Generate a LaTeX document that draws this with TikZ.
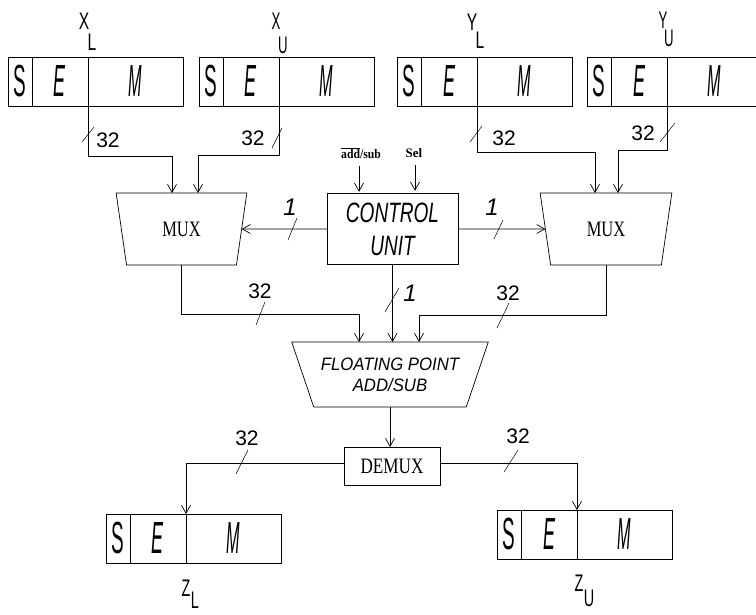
\documentclass[tikz,border=0pt]{standalone}
\usepackage{fontspec}
\usepackage{graphicx}
\setmainfont{Liberation Serif}
\newfontfamily\lsans{Liberation Sans}
\usetikzlibrary{arrows.meta,shapes.geometric}

\tikzset{
  ln/.style={line width=0.7pt},
  arr/.style={ln,-{Straight Barb[length=8pt,width=9pt]}},
  tick/.style={line width=0.5pt},
  regbox/.style={draw,ln,minimum width=175pt,minimum height=49pt,inner sep=0pt,outer sep=0pt},
  regl/.style={inner sep=0pt,font=\lsans\fontsize{45}{45}\selectfont},
  lab/.style={inner sep=0pt,font=\lsans\fontsize{24}{24}\selectfont},
  num/.style={inner sep=0pt,font=\lsans\fontsize{21}{21}\selectfont},
  one/.style={inner sep=0pt,font=\lsans\itshape\fontsize{24}{24}\selectfont},
  inlab/.style={inner sep=0pt,font=\bfseries\fontsize{13}{13}\selectfont},
  serifbig/.style={font=\fontsize{22}{22}\selectfont},
  box/.style={draw,ln,inner sep=0pt,outer sep=0pt},
  trap/.style={draw,ln,trapezium,shape border rotate=180,trapezium stretches=true,inner sep=0pt,outer sep=0pt},
}

\newcommand\semreg[3]{%
  \node[regbox,anchor=north west] (#1) at (#2,#3) {};
  \draw[ln] ({#2+24},#3) -- ({#2+24},{#3+49});
  \draw[ln] ({#2+80},#3) -- ({#2+80},{#3+49});
  \node[regl] (#1s) at ({#2+12},{#3+24.5}) {\scalebox{0.42}[1]{S}};
  \node[regl] (#1e) at ({#2+52},{#3+24.5}) {\scalebox{0.4}[1]{\itshape E}};
  \node[regl] (#1m) at ({#2+127.5},{#3+24.5}) {\scalebox{0.36}[1]{\itshape M}};
  \coordinate (#1t) at ({#2+80},#3);
  \coordinate (#1b) at ({#2+80},{#3+49});
}

\begin{document}
\begin{tikzpicture}[x=1pt,y=-1pt]
\useasboundingbox (0,0) rectangle (756,614);

% registers
\semreg{xl}{8}{57}
\semreg{xu}{199}{57}
\semreg{yl}{397}{57}
\semreg{yu}{587}{57}
\semreg{zl}{106}{514}
\semreg{zu}{497}{510}

% register labels
\node[lab] (xlX) at (84,21) {\scalebox{0.65}[1]{X}};
\node[lab] (xlL) at (92,42) {\scalebox{0.65}[1]{L}};
\node[lab] (xuX) at (276,21) {\scalebox{0.55}[1]{X}};
\node[lab] (xuU) at (283,45) {\scalebox{0.55}[1]{U}};
\node[lab] (ylY) at (472,22) {\scalebox{0.65}[1]{Y}};
\node[lab] (ylL) at (480,40) {\scalebox{0.65}[1]{L}};
\node[lab] (yuY) at (663,20) {\scalebox{0.55}[1]{Y}};
\node[lab] (yuU) at (669,38) {\scalebox{0.55}[1]{U}};
\node[lab] (zlZ) at (186,588) {\scalebox{0.6}[1]{Z}};
\node[lab] (zlL) at (195,600) {\scalebox{0.6}[1]{L}};
\node[lab] (zuZ) at (579,583) {\scalebox{0.6}[1]{Z}};
\node[lab] (zuU) at (589,598) {\scalebox{0.6}[1]{U}};

% MUXes, control unit, adder, demux
\node[trap,serifbig,minimum width=131pt,minimum height=72pt,trapezium angle=76] (lmux) at (181.5,229) {\scalebox{0.75}[1]{MUX}};
\node[trap,serifbig,minimum width=132pt,minimum height=72pt,trapezium angle=76] (rmux) at (606,229) {\scalebox{0.75}[1]{MUX}};
\node[box,minimum width=131pt,minimum height=71pt,align=center,
      font=\lsans\itshape\fontsize{28}{33}\selectfont] (ctrl) at (392.5,229)
      {\scalebox{0.68}[1]{CONTROL}\\\scalebox{0.68}[1]{UNIT}};
\node[trap,minimum width=197pt,minimum height=65pt,trapezium angle=59.4,align=center,
      font=\lsans\itshape\fontsize{18}{21}\selectfont] (fp) at (390,374.5)
      {\scalebox{0.93}[1]{FLOATING POINT}\\\scalebox{0.93}[1]{ADD/SUB}};
\node[box,serifbig,minimum width=96pt,minimum height=38pt] (demux) at (392,466) {\scalebox{0.78}[1]{DEMUX}};

% control inputs
\node[inlab] (addsub) at (361,153) {\scalebox{0.9}[1]{$\overline{\hbox{add}}$/sub}};
\node[inlab] (sel) at (414,153) {Sel};
\draw[arr] (addsub.south) ++(-2,7) -- ++(0,26);
\draw[arr] (sel.south) ++(1,7) -- ++(0,26);

% input connectors to MUX tops
\coordinate (lmi1) at (172,193);
\coordinate (lmi2) at (198,193);
\coordinate (rmi1) at (595,193);
\coordinate (rmi2) at (618,193);
\draw[arr] (xlb) -- ++(0,50) -| (lmi1);
\draw[arr] (xub) -- ++(0,49) -| (lmi2);
\draw[arr] (ylb) -- ++(0,46) -| (rmi1);
\draw[arr] (yub) -- ++(0,44) -| (rmi2);

% control to MUXes
\draw[arr] (ctrl) -- (lmux);
\draw[arr] (ctrl) -- (rmux);

% to the adder
\coordinate (fpi1) at (359,342);
\coordinate (fpi2) at (392.5,342);
\coordinate (fpi3) at (419,342);
\draw[arr] (lmux.south) -- ++(0,49) -| (fpi1);
\draw[arr] (ctrl.south) -- (fpi2);
\draw[arr] (rmux.south) -- ++(0,50) -| (fpi3);

% adder to demux, demux to outputs
\draw[arr] (fp.south) -- (fp.south |- demux.north);
\draw[arr] ([yshift=3pt]demux.west) -| (zlt);
\draw[arr] ([yshift=3pt]demux.east) -| (zut);

% width ticks
\draw[tick] (82,142) -- (94,127);
\draw[tick] (272,148) -- (282,128);
\draw[tick] (470,142) -- (482,126);
\draw[tick] (660,142) -- (675,123);
\draw[tick] (288,240) -- (297,218);
\draw[tick] (494,239) -- (503,220);
\draw[tick] (256,325) -- (265,302);
\draw[tick] (385,312) -- (399,288);
\draw[tick] (497,328) -- (509,303);
\draw[tick] (236,474) -- (248,450);
\draw[tick] (504,472) -- (518,450);

% width labels
\node[num] (n1) at (108,140) {32};
\node[num] (n2) at (253,138) {32};
\node[num] (n3) at (504,138) {32};
\node[num] (n4) at (643,133) {32};
\node[num] (n5) at (260,291) {32};
\node[num] (n6) at (508,293) {32};
\node[num] (n7) at (247,438) {32};
\node[num] (n8) at (518,436) {32};
\node[one] (o1) at (290,207) {1};
\node[one] (o2) at (492,207) {1};
\node[one] (o3) at (410,293) {1};
\end{tikzpicture}
\end{document}
